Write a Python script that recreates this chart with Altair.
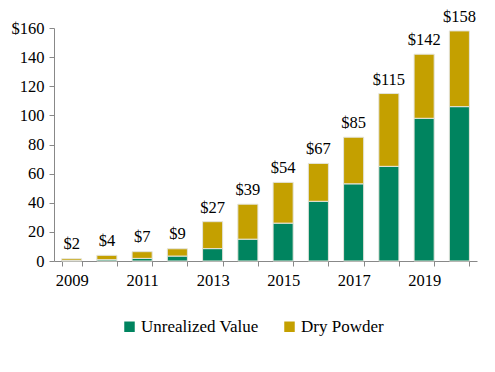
import altair as alt
import pandas as pd

years = [str(y) for y in range(2009, 2021)]
unrealized = [0.3, 0.9, 1.8, 3.4, 8.5, 15, 26, 41, 53, 65, 98, 106]
dry_powder = [1.2, 3.0, 4.6, 5.0, 18.5, 24, 28, 26, 32, 50, 44, 52]
totals = [2, 4, 7, 9, 27, 39, 54, 67, 85, 115, 142, 158]
series = ["Unrealized Value", "Dry Powder"]
colors = ["#00845F", "#C4A000"]

rows = []
for i, y in enumerate(years):
    rows.append({"year": y, "series": series[0], "value": unrealized[i], "ord": 0})
    rows.append({"year": y, "series": series[1], "value": dry_powder[i], "ord": 1})
df = pd.DataFrame(rows)
lab = pd.DataFrame({"year": years, "total": totals,
                    "text": ["$" + str(t) for t in totals]})

FONT = "Liberation Serif"

xaxis = alt.Axis(labelAngle=0, tickBand="extent",
                 labelExpr="toNumber(datum.value) % 2 == 1 ? datum.label : ''",
                 labelPadding=6)
yaxis = alt.Axis(values=list(range(0, 161, 20)), grid=False,
                 labelOverlap=False,
                 labelExpr="datum.value == 160 ? '$160' : datum.label",
                 labelPadding=5)
xscale = alt.Scale(paddingInner=0.43, paddingOuter=0.215)
yscale = alt.Scale(domain=[0, 160], nice=False)

bars = alt.Chart(df).mark_bar(stroke="#e4e4dc", strokeWidth=1).encode(
    x=alt.X("year:N", sort=years, title=None, scale=xscale, axis=xaxis),
    y=alt.Y("value:Q", stack="zero", title=None, scale=yscale, axis=yaxis),
    color=alt.Color("series:N", sort=series,
                    scale=alt.Scale(domain=series, range=colors),
                    legend=alt.Legend(title=None, orient="none", direction="horizontal",
                                      legendX=67, legendY=290,
                                      symbolType="square", symbolSize=110,
                                      symbolStrokeWidth=0,
                                      labelOffset=3, columnPadding=22)),
    order=alt.Order("ord:Q"),
)

text = alt.Chart(lab).mark_text(baseline="bottom", dy=-6).encode(
    x=alt.X("year:N", sort=years, title=None, scale=xscale, axis=xaxis),
    y=alt.Y("total:Q", title=None, scale=yscale, axis=yaxis),
    text="text:N",
)

chart = alt.layer(bars, text).properties(
    width=423, height=233,
    padding={"left": 46, "top": 20, "right": 10, "bottom": 90},
    autosize=alt.AutoSizeParams(type="none"),
).configure_view(stroke=None).configure_axis(
    labelFont=FONT, labelFontSize=16.5, labelColor="#000",
    domainColor="#888", tickColor="#888", tickSize=5, labelOverlap=False,
).configure_legend(
    labelFont=FONT, labelFontSize=17, labelColor="#000",
).configure_text(
    font=FONT, fontSize=16.5, color="#000",
)

chart.save("out.html", embed_options={"renderer": "svg", "actions": False})
